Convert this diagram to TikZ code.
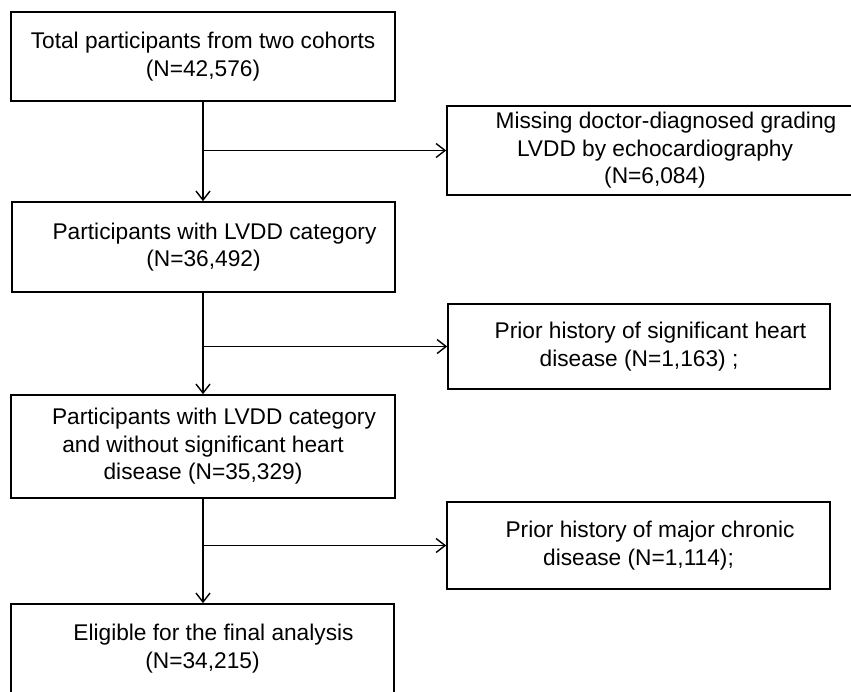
\documentclass[tikz,border=0pt]{standalone}
\usepackage{fontspec}
\setmainfont{Liberation Sans}
\usepackage{tikz}
\usetikzlibrary{arrows.meta,calc,positioning}
\tikzset{%
	process/.style = {draw, rectangle, line width=1.6pt, inner sep=0pt, align=center, text centered, font=\fontsize{22.7}{27.5}\selectfont},
	arrow/.style   = {line width=1.4pt, -{Straight Barb[length=9pt,width=14pt]}},
}

\begin{document}
\begin{tikzpicture}[x=1pt,y=-1pt]
	\useasboundingbox (0,0) rectangle (851,691);
	\clip (0,0) rectangle (851,691);
	% main column
	\node[process, minimum width=384pt, minimum height=89pt] (total) at (203,56.5) {Total participants from two cohorts\\(N=42,576)};
	\node[process, minimum width=383pt, minimum height=90pt] (lvdd) at (203.5,247) {\hspace*{22pt}Participants with LVDD category\\(N=36,492)};
	\node[process, minimum width=384pt, minimum height=103pt] (noheart) at (203,446.5) {\hspace*{22pt}Participants with LVDD category\\and without significant heart\\disease (N=35,329)};
	\node[process, minimum width=383pt, minimum height=89pt] (final) at (202.5,648.5) {\hspace*{22pt}Eligible for the final analysis\\(N=34,215)};
	% exclusions
	\node[process, minimum width=416pt, minimum height=89pt] (missing) at (655,150.5) {\hspace*{22pt}Missing doctor-diagnosed grading\\LVDD by echocardiography\\(N=6,084)};
	\node[process, minimum width=382pt, minimum height=85pt] (heart) at (639,346.5) {\hspace*{23pt}Prior history of significant heart\\disease (N=1,163) ;};
	\node[process, minimum width=383pt, minimum height=87pt] (chronic) at (638.5,545.5) {\hspace*{23pt}Prior history of major chronic\\disease (N=1,114);};
	% arrows
	\draw[arrow] (total.south) -- (total.south |- lvdd.north);
	\draw[arrow] (total.south |- missing.west) -- (missing.west);
	\draw[arrow] (total.south |- lvdd.south) -- (total.south |- noheart.north);
	\draw[arrow] (total.south |- heart.west) -- (heart.west);
	\draw[arrow] (total.south |- noheart.south) -- (total.south |- final.north);
	\draw[arrow] (total.south |- chronic.west) -- (chronic.west);
\end{tikzpicture}
\end{document}
